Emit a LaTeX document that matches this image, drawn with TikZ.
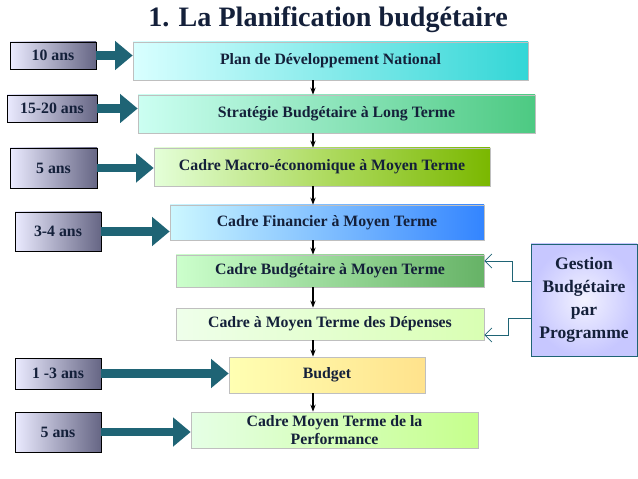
\documentclass[tikz,border=0pt]{standalone}
\usepackage{fontspec}
\setmainfont{Liberation Serif}
\usetikzlibrary{arrows.meta}

\definecolor{arrowteal}{HTML}{1F6475}
\definecolor{ink}{HTML}{14203A}
\tikzset{
  stage/.style={draw=black!25, minimum height=#1, inner sep=0pt, text=ink, font=\bfseries\fontsize{9}{10}\selectfont, align=center},
  span/.style={draw=black, left color=white!80!blue!40, right color=blue!20!black!60, text=ink, font=\bfseries\fontsize{9}{10}\selectfont, inner sep=0pt},
  push/.style={line width=5pt, arrowteal, -{Triangle[length=10pt, width=16pt]}},
  link/.style={-{Stealth[length=4pt]}, thick}
}

\begin{document}
\begin{tikzpicture}[x=0.02cm, y=-0.02cm]
  \useasboundingbox (0,0) rectangle (638,479);
  \node[text=ink] at (328,20) {\bfseries\fontsize{16}{18}\selectfont 1. La Planification budgétaire};

  % stages
  \node[stage=38*0.02cm, minimum width=395*0.02cm, left color=cyan!15, right color=cyan!60!teal!80] (pdn) at (330.5,61) {Plan de Développement National};
  \node[stage=38*0.02cm, minimum width=397*0.02cm, left color=green!25!cyan!20, right color=teal!60!green!70] (sblt) at (336.5,114) {Stratégie Budgétaire à Long Terme};
  \node[stage=38*0.02cm, minimum width=336*0.02cm, left color=yellow!30!green!15, right color=olive!70!green!80] (cmmt) at (322,167) {Cadre Macro-économique à Moyen Terme};
  \node[stage=35*0.02cm, minimum width=314*0.02cm, left color=blue!15!cyan!20, right color=blue!60!cyan!80] (cfmt) at (327,222.5) {Cadre Financier à Moyen Terme};
  \node[stage=32*0.02cm, minimum width=308*0.02cm, left color=green!20, right color=green!50!black!60] (cbmt) at (330,271) {Cadre Budgétaire à Moyen Terme};
  \node[stage=32*0.02cm, minimum width=308*0.02cm, left color=yellow!20!green!8, right color=yellow!50!green!30] (cdmt) at (330,324) {Cadre à Moyen Terme des Dépenses};
  \node[stage=36*0.02cm, minimum width=196*0.02cm, left color=yellow!30, right color=yellow!50!orange!45] (bud) at (327,375) {Budget};
  \node[stage=36*0.02cm, minimum width=287*0.02cm, left color=green!10, right color=green!50!yellow!45] (perf) at (334.5,430) {Cadre Moyen Terme de la\\Performance};

  \foreach \a/\b in {pdn/sblt, sblt/cmmt, cmmt/cfmt, cfmt/cbmt, cbmt/cdmt, cdmt/bud, bud/perf}
    \draw[link] (\a.south -| 313,0) -- (\b.north -| 313,0);

  % horizons
  \foreach \name/\txt/\x/\y/\w/\h/\target in {
      h1/10 ans/53/55.5/86/27/pdn,
      h2/15-20 ans/52/108.5/90/27/sblt,
      h3/5 ans/53.5/168/87/40/cmmt,
      h4/3-4 ans/58/231.5/86/39/cfmt,
      h5/1 -3 ans/58/373.5/86/31/bud,
      h6/5 ans/58/432/86/40/perf} {
    \node[span, minimum width=\w*0.02cm, minimum height=\h*0.02cm] (\name) at (\x,\y) {\txt};
    \draw[push] (\name.east) -- (\target.west |- \name.east);
  }

  % gestion
  \node[draw=arrowteal, inner color=blue!5, outer color=blue!22, text=ink, minimum width=106*0.02cm, minimum height=112*0.02cm, align=center, font=\bfseries\fontsize{10}{13}\selectfont] (gbp) at (584,300) {Gestion\\Budgétaire\\par\\Programme};
  \draw[-{Straight Barb[length=4pt]}, arrowteal] (gbp.west |- 0,281) -| (512,261) -- (cbmt.east |- 0,261);
  \draw[-{Straight Barb[length=4pt]}, arrowteal] (gbp.west |- 0,318) -| (508,335) -- (cdmt.east |- 0,335);
\end{tikzpicture}
\end{document}
